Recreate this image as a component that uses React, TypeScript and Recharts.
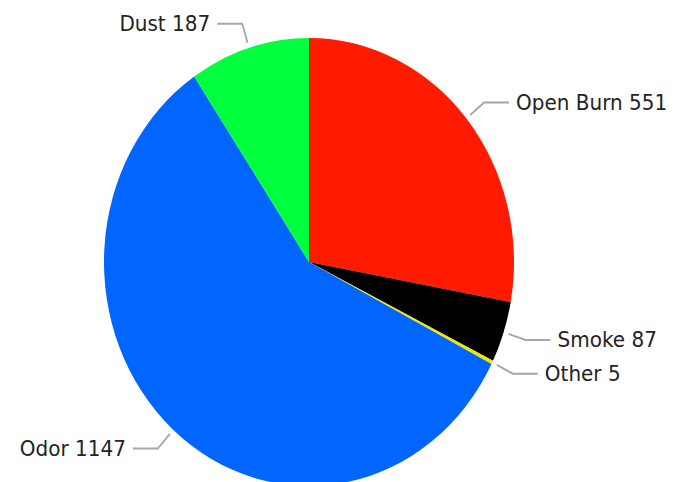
import { Cell, Pie, PieChart } from "recharts";

const categories = ["Open Burn", "Smoke", "Other", "Odor", "Dust"];
const counts = [551, 87, 5, 1147, 187];
const sliceColors = ["#FF1A00", "#000000", "#F0E800", "#0066FF", "#00FF3C"];

const data = categories.map((name, i) => ({ name, value: counts[i] }));

const RADIAN = Math.PI / 180;
// the reference pie is a little taller than wide
const STRETCH = 224 / 205;

function renderLabel(props: any) {
  const { cx, cy, midAngle, outerRadius, name, value } = props;
  const cos = Math.cos(-midAngle * RADIAN);
  const sin = Math.sin(-midAngle * RADIAN);
  const sx = cx + (outerRadius + 5) * cos;
  const sy = cy + (outerRadius + 5) * sin;
  const mx = cx + (outerRadius + 23) * cos;
  const my = cy + (outerRadius + 23) * sin;
  const right = cos >= 0;
  const ex = mx + (right ? 25 : -25);
  return (
    <g>
      <polyline
        points={`${sx},${sy} ${mx},${my} ${ex},${my}`}
        fill="none"
        stroke="#A6A6A6"
        strokeWidth={1.8}
      />
      <text
        x={ex + (right ? 7 : -7)}
        y={my}
        textAnchor={right ? "start" : "end"}
        dominantBaseline="central"
        fill="#252423"
        fontSize={20}
        fontFamily="DejaVu Sans, sans-serif"
      >
        {`${name} ${value}`}
      </text>
    </g>
  );
}

export default function App() {
  return (
    <div
      style={{
        position: "absolute",
        left: 0,
        top: 0,
        width: 686,
        height: 482,
        overflow: "hidden",
        background: "#fff",
      }}
    >
      <div style={{ transform: `scale(1, ${STRETCH})`, transformOrigin: "0 0" }}>
        <PieChart width={686} height={460} margin={{ top: 0, right: 0, bottom: 0, left: 0 }}>
          <Pie
            data={data}
            dataKey="value"
            nameKey="name"
            cx={309}
            cy={262 / STRETCH}
            outerRadius={205}
            startAngle={90}
            endAngle={-270}
            stroke="none"
            label={renderLabel}
            labelLine={false}
            isAnimationActive={false}
          >
            {data.map((d, i) => (
              <Cell key={d.name} fill={sliceColors[i]} />
            ))}
          </Pie>
        </PieChart>
      </div>
    </div>
  );
}
